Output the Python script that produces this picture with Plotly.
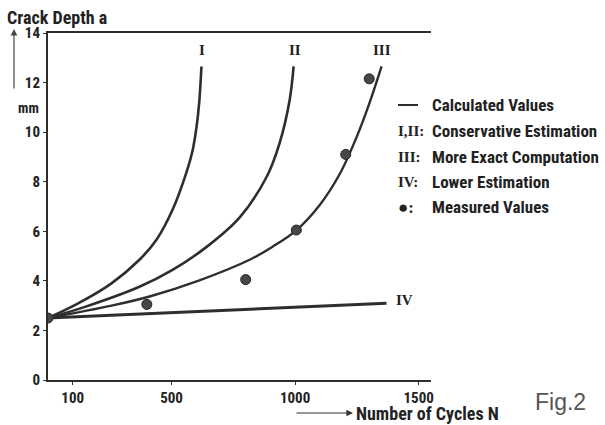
import plotly.graph_objects as go

# ---- data ----
curve1_n = [0, 120, 257, 370, 439, 504, 561, 585, 601, 612, 621]
curve1_a = [2.5, 3.08, 3.9, 4.85, 5.66, 6.87, 8.4, 9.25, 10.2, 11.2, 12.65]

curve2_n = [0, 150, 370, 504, 642, 775, 885, 937, 978, 994]
curve2_a = [2.5, 2.95, 3.76, 4.44, 5.37, 6.55, 8.2, 9.55, 11.3, 12.65]

curve3_n = [0, 257, 411, 613, 816, 909, 1006, 1099, 1180, 1249, 1302, 1350]
curve3_a = [2.5, 3.0, 3.37, 4.02, 4.85, 5.38, 6.05, 7.05, 8.3, 9.8, 11.2, 12.65]

curve4_n = [0, 1370]
curve4_a = [2.5, 3.1]

measured_n = [0, 400, 800, 1005, 1205, 1300]
measured_a = [2.5, 3.05, 4.05, 6.05, 9.1, 12.15]

x_ticks = [100, 500, 1000, 1500]
y_ticks = [0, 2, 4, 6, 8, 10, 12, 14]

curve_labels = ["I", "II", "III", "IV"]
legend_keys = ["", "I,II:", "III:", "IV:", "\u25cf:"]
legend_texts = ["Calculated Values", "Conservative Estimation",
                "More Exact Computation", "Lower Estimation", "Measured Values"]

# ---- layout helpers ----
W, H = 605, 425
ML, MR, MT, MB = 48, 174, 33, 45
PW, PH = W - ML - MR, H - MT - MB


def px(x):
    return (x - ML) / PW


def py(y):
    return (H - MB - y) / PH


INK = "#2e2e2e"
SANS = "Roboto Condensed, Liberation Sans Narrow, Roboto, sans-serif"
SERIF = "Liberation Serif, DejaVu Serif, serif"

fig = go.Figure()
for n, a, w in [(curve1_n, curve1_a, 2.6), (curve2_n, curve2_a, 2.6),
                (curve3_n, curve3_a, 2.4), (curve4_n, curve4_a, 3.0)]:
    fig.add_trace(go.Scatter(x=n, y=a, mode="lines",
                             line=dict(color=INK, width=w, shape="spline", smoothing=1.0),
                             showlegend=False, hoverinfo="skip"))

fig.add_trace(go.Scatter(x=measured_n, y=measured_a, mode="markers",
                         marker=dict(size=10, color="#474747", line=dict(color="#222", width=1)),
                         showlegend=False))

fig.update_layout(
    width=W, height=H,
    margin=dict(l=ML, r=MR, t=MT, b=MB),
    paper_bgcolor="white", plot_bgcolor="white",
    showlegend=False,
    xaxis=dict(range=[0, 1550], tickvals=x_ticks, ticktext=[str(v) for v in x_ticks],
               showgrid=False, zeroline=False, showline=True, linecolor=INK, linewidth=2,
               mirror=True, ticks="outside", ticklen=3, tickcolor=INK,
               tickfont=dict(family=SANS, size=15, color="#222", weight="bold")),
    yaxis=dict(range=[0, 14], tickvals=y_ticks, showgrid=False, zeroline=False,
               showline=True, linecolor=INK, linewidth=2, ticks="outside", ticklen=3,
               tickcolor=INK,
               tickfont=dict(family=SANS, size=15, color="#222", weight="bold")),
)

ann = []
# axis titles
ann.append(dict(x=px(5), y=py(17), xref="paper", yref="paper", xanchor="left", yanchor="middle",
                text="Crack Depth a", showarrow=False,
                font=dict(family=SANS, size=18, color="#222", weight="bold")))
ann.append(dict(x=px(28), y=py(108), xref="paper", yref="paper", xanchor="center", yanchor="middle",
                text="mm", showarrow=False,
                font=dict(family=SANS, size=14, color="#222", weight="bold")))
ann.append(dict(x=px(14), y=py(29), ax=0, ay=61, xref="paper", yref="paper",
                axref="pixel", ayref="pixel", text="", showarrow=True, arrowhead=2,
                arrowsize=1.1, arrowwidth=1.2, arrowcolor="#444"))
ann.append(dict(x=px(353), y=py(413), ax=-58, ay=0, xref="paper", yref="paper",
                axref="pixel", ayref="pixel", text="", showarrow=True, arrowhead=2,
                arrowsize=1.1, arrowwidth=1.2, arrowcolor="#333"))
ann.append(dict(x=px(354), y=py(413), xref="paper", yref="paper", xanchor="left", yanchor="middle",
                text="Number of Cycles N", showarrow=False,
                font=dict(family=SANS, size=18, color="#222", weight="bold")))
ann.append(dict(x=px(533), y=py(402), xref="paper", yref="paper", xanchor="left", yanchor="middle",
                text="Fig.2", showarrow=False,
                font=dict(family="Liberation Sans, Arial, sans-serif", size=23, color="#555")))

# curve labels
for lab, (x, y) in zip(curve_labels, [(202, 50), (295, 50), (382, 50), (404, 300)]):
    ann.append(dict(x=px(x), y=py(y), xref="paper", yref="paper", xanchor="center",
                    yanchor="middle", text=lab, showarrow=False,
                    font=dict(family=SERIF, size=15, color="#222", weight="bold")))

# legend block
rows_y = [105, 131, 157, 182, 207]
for i, (key, txt, y) in enumerate(zip(legend_keys, legend_texts, rows_y)):
    if key:
        ann.append(dict(x=px(396), y=py(y), xref="paper", yref="paper", xanchor="left",
                        yanchor="middle", text=key, showarrow=False,
                        font=dict(family=SERIF, size=17 if i == 4 else 15,
                                  color="#222", weight="bold")))
    ann.append(dict(x=px(430), y=py(y), xref="paper", yref="paper", xanchor="left",
                    yanchor="middle", text=txt, showarrow=False,
                    font=dict(family=SANS, size=17, color="#222", weight="bold")))
fig.update_layout(annotations=ann)

fig.add_shape(type="line", xref="paper", yref="paper", x0=px(398), x1=px(418),
              y0=py(rows_y[0]), y1=py(rows_y[0]), line=dict(color=INK, width=2))

fig.write_html("out.html", post_script="document.body.style.margin='0px';",
               config={"displayModeBar": False})
